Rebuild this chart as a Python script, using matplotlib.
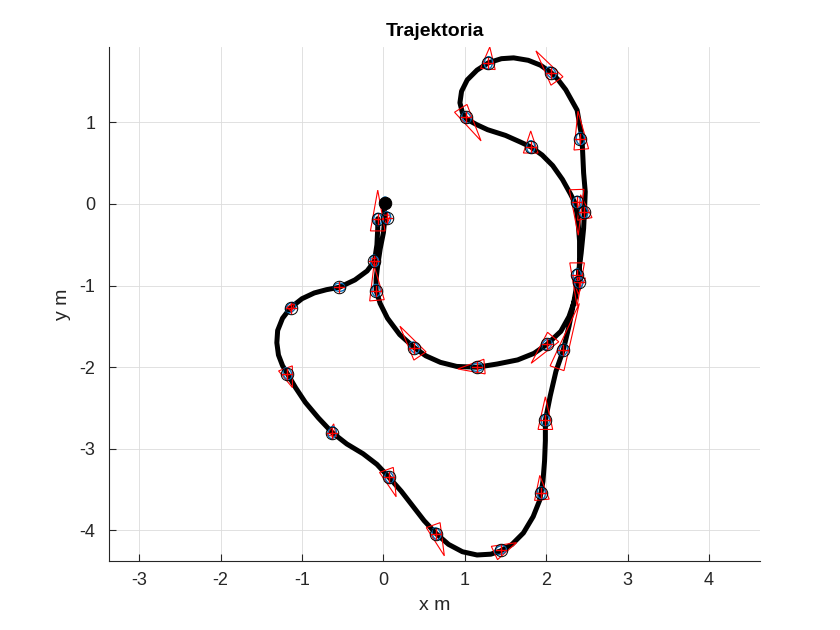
import numpy as np
import matplotlib
import matplotlib.pyplot as plt
from matplotlib.patches import Ellipse, Polygon

matplotlib.use('Agg')
plt.rcParams['font.family'] = ['Liberation Sans', 'DejaVu Sans']
plt.rcParams['axes.unicode_minus'] = False

# trajectory (metres)
path_x = [0.00, 0.02, 0.00, -0.04, -0.07, -0.09, -0.09, -0.04, 0.05, 0.20, 0.38,
          0.52, 0.70, 0.90, 1.15, 1.40, 1.65, 1.85, 2.01,
          2.18, 2.28, 2.36, 2.40, 2.41, 2.41, 2.39, 2.36, 2.30, 2.20, 2.08, 1.95, 1.81, 1.68, 1.50, 1.28, 1.15, 1.02,
          0.97, 0.94, 0.96, 1.03, 1.15, 1.29, 1.45, 1.60, 1.78, 1.93, 2.06, 2.14, 2.24, 2.38, 2.44, 2.46,
          2.48, 2.47, 2.46, 2.43, 2.39, 2.34, 2.28, 2.21,
          2.12, 2.05, 1.99, 1.99, 1.98, 1.96, 1.92, 1.84, 1.72, 1.58, 1.44, 1.32, 1.15, 0.97, 0.80, 0.65,
          0.50, 0.36, 0.22, 0.07, -0.08, -0.25, -0.45, -0.63, -0.80, -0.96, -1.08, -1.18, -1.24, -1.29,
          -1.31, -1.30, -1.24, -1.14, -1.00, -0.85, -0.70, -0.54, -0.35, -0.20, -0.11, -0.08, -0.07, -0.07]
path_y = [0.00, -0.15, -0.35, -0.55, -0.75, -0.92, -1.06, -1.22, -1.40, -1.60, -1.76,
          -1.86, -1.94, -1.99, -2.00, -1.96, -1.91, -1.83, -1.72,
          -1.56, -1.38, -1.15, -0.92, -0.70, -0.45, -0.20, 0.00, 0.12, 0.30, 0.47, 0.60, 0.70, 0.76, 0.84, 0.91, 0.97, 1.04,
          1.12, 1.24, 1.38, 1.52, 1.64, 1.73, 1.78, 1.79, 1.76, 1.70, 1.61, 1.53, 1.40, 1.15, 0.81, 0.38,
          0.15, -0.10, -0.30, -0.60, -0.92, -1.20, -1.50, -1.79,
          -2.05, -2.35, -2.65, -2.90, -3.15, -3.40, -3.63, -3.83, -4.03, -4.17, -4.25, -4.29, -4.30, -4.26, -4.17, -4.04,
          -3.88, -3.70, -3.52, -3.35, -3.19, -3.06, -2.94, -2.80, -2.62, -2.43, -2.25, -2.08, -1.98, -1.85,
          -1.70, -1.55, -1.40, -1.27, -1.16, -1.09, -1.05, -1.02, -0.93, -0.82, -0.70, -0.50, -0.30, -0.18]

# waypoints: position, heading (deg) and length of the heading triangle (m)
wp_x = [0.02, -0.07, 0.04, -0.11, -0.09, -0.54, -1.14, -1.18, -0.63, 0.07, 0.65, 1.44, 1.94,
        1.99, 2.21, 2.01, 2.38, 2.40, 2.38, 2.46, 2.42, 1.81, 2.06, 1.29, 1.02, 0.38, 1.15]
wp_y = [0.01, -0.19, -0.17, -0.70, -1.06, -1.02, -1.27, -2.08, -2.80, -3.35, -4.04, -4.24, -3.54,
        -2.65, -1.79, -1.72, -0.87, -0.96, 0.02, -0.10, 0.80, 0.70, 1.61, 1.73, 1.06, -1.76, -2.00]
wp_head = [-90, 90, -90, -80, 95, 0, 45, -70, 80, -70, -70, 25, 95,
           90, 71, -130, -90, -92, -88, 100, 95, 90, 125, 85, -58, 124, 185]
wp_len = [0.12, 0.50, 0.12, 0.12, 0.43, 0.0, 0.10, 0.25, 0.15, 0.35, 0.40, 0.30, 0.30,
          0.40, 0.84, 0.42, 0.53, 0.20, 0.56, 0.30, 0.47, 0.27, 0.45, 0.27, 0.47, 0.44, 0.33]

fig = plt.figure(figsize=(8.4, 6.3), dpi=100)
ax = fig.add_axes([0.13, 0.11, 0.775, 0.815])

ax.plot(path_x, path_y, color='k', lw=3.6, solid_joinstyle='round', solid_capstyle='round', zorder=3)

for x, y, h, L in zip(wp_x, wp_y, wp_head, wp_len):
    t = np.deg2rad(h)
    d = np.array([np.cos(t), np.sin(t)])
    n = np.array([-d[1], d[0]])
    p = np.array([x, y])
    if L > 0:
        base = p - 0.28 * L * d
        apex = p + 0.72 * L * d
        w = min(0.09, 0.4 * L)
        tri = Polygon([apex, base + w * n, base - w * n], closed=True, fill=False,
                      ec='red', lw=0.8, zorder=4)
        ax.add_patch(tri)
    ax.add_patch(Ellipse((x, y), 0.15, 0.10, angle=h, fill=False, ec='#0072BD', lw=1.0, zorder=5))

ax.plot(wp_x, wp_y, '+', color='red', ms=8, mew=1.0, zorder=6)
ax.plot(wp_x, wp_y, 'o', mfc='none', mec='k', ms=9, mew=0.7, zorder=6)
ax.plot(wp_x[0], wp_y[0], 'o', color='k', ms=8, zorder=7)

ax.set_xlim(-3.37, 4.63)
ax.set_ylim(-4.37, 1.92)
ax.set_xticks(range(-3, 5))
ax.set_yticks(range(-4, 2))
ax.grid(True, color='#dcdcdc', lw=0.6)
ax.set_axisbelow(True)
for s in ['top', 'right']:
    ax.spines[s].set_visible(False)
for s in ['left', 'bottom']:
    ax.spines[s].set_color('#262626')
    ax.spines[s].set_linewidth(0.8)
ax.tick_params(direction='in', length=5, width=0.8, colors='#262626', labelsize=13)
ax.tick_params(axis='x', pad=8)
ax.tick_params(axis='y', pad=10)

ax.set_xlabel('x m', fontsize=14, color='#262626', labelpad=6)
ax.set_ylabel('y m', fontsize=14, color='#262626', labelpad=6)
ax.set_title('Trajektoria', fontsize=14, fontweight='bold', pad=8)

fig.savefig('out.png', dpi=100)
